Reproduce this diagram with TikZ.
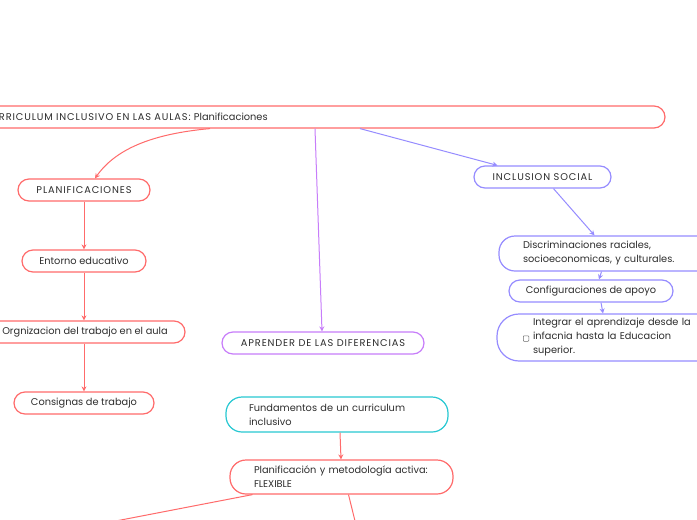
\documentclass[tikz,border=0pt]{standalone}
\usepackage{fontspec}
\setmainfont{Poppins}
\usetikzlibrary{arrows.meta}
\definecolor{cred}{RGB}{255,107,107}
\definecolor{cpurple}{RGB}{199,125,250}
\definecolor{cblue}{RGB}{150,140,255}
\definecolor{ccyan}{RGB}{40,200,210}
\definecolor{ctext}{RGB}{45,45,45}
\newcommand{\cps}[1]{{\addfontfeatures{LetterSpace=9}#1}}
\tikzset{
  box/.style={draw, line width=1.2pt, fill=white, text=ctext, font=\fontsize{9.8}{14}\selectfont,
              rounded corners=11pt, minimum height=22pt, inner ysep=0pt, inner xsep=0pt},
  tallbox/.style={box, rounded corners=16pt, align=left},
  conn/.style={line width=1pt, -{Stealth[length=5pt,width=5pt]}},
}
\begin{document}
\begin{tikzpicture}[x=1pt,y=-1pt]
\useasboundingbox (0,0) rectangle (697,520);
\fill[white] (0,0) rectangle (697,520);
\clip (0,0) rectangle (697,520);

% root
\node[box, draw=cred, inner xsep=18pt, align=left, text width=664pt] (root) at (315,117)
  {\cps{CURRICULUM INCLUSIVO EN LAS AULAS:} Planificaciones};

% left column
\node[box, draw=cred, minimum width=132pt] (plan) at (84,190) {\cps{PLANIFICACIONES}};
\node[box, draw=cred, minimum width=124pt] (ent) at (84,261) {Entorno educativo};
\node[box, draw=cred, minimum width=200pt] (org) at (85,332) {Orgnizacion del trabajo en el aula};
\node[box, draw=cred, minimum width=140pt] (cons) at (84,403) {Consignas de trabajo};

% middle
\node[box, draw=cpurple, minimum width=202pt] (apr) at (323,343) {\cps{APRENDER DE LAS DIFERENCIAS}};
\node[tallbox, draw=ccyan, minimum height=35pt, inner xsep=23pt, text width=176pt] (fund) at (337,414.5)
  {Fundamentos de un curriculum\\inclusivo};
\node[tallbox, draw=cred, minimum height=34pt, inner xsep=24pt, text width=175pt] (pmet) at (341.5,477)
  {Planificación y metodología activa:\\FLEXIBLE};

% right column
\node[box, draw=cblue, minimum width=137pt] (inc) at (542.5,177) {\cps{INCLUSION SOCIAL}};
\node[tallbox, draw=cblue, minimum height=35pt, inner xsep=24pt, text width=173pt] (disc) at (609.5,253.5)
  {Discriminaciones raciales,\\socioeconomicas, y culturales.};
\node[box, draw=cblue, minimum width=164pt] (conf) at (591,291) {Configuraciones de apoyo};
\node[tallbox, draw=cblue, minimum height=47pt, rounded corners=22pt, inner xsep=36pt, text width=190pt] (integ) at (628,337.5)
  {Integrar el aprendizaje desde la\\infacnia hasta la Educacion\\superior.};
\node[draw=ctext!70, line width=0.5pt, rounded corners=0.8pt, minimum size=5.5pt, inner sep=0pt] (chk) at (526,338.5) {};

% connectors
\draw[conn, cred] ([xshift=-105pt]root.south) .. controls (150,134) and (115,150) .. ([xshift=11pt]plan.north);
\draw[conn, cred] (plan.south) -- (ent.north);
\draw[conn, cred] (ent.south) -- ([xshift=-1pt]org.north);
\draw[conn, cred] ([xshift=-1pt]org.south) -- (cons.north);
\draw[conn, cpurple] ([xshift=0pt]root.south) -- ([xshift=-1pt]apr.north);
\draw[conn, cblue] ([xshift=45pt]root.south) -- ([xshift=-45pt]inc.north);
\draw[conn, cblue] ([xshift=11pt]inc.south) -- ([xshift=-15pt]disc.north);
\draw[conn, cblue] ([xshift=-8pt]disc.south) -- ([xshift=8pt]conf.north);
\draw[conn, cblue] ([xshift=10pt]conf.south) -- (integ.north -| 603,0);
\draw[conn, cred] ([xshift=3pt]fund.south) -- ([xshift=-0.5pt]pmet.north);
\coordinate (e1) at (95,525);
\coordinate (e2) at (356,525);
\draw[line width=1pt, cred] ([xshift=-89pt]pmet.south) -- (e1);
\draw[line width=1pt, cred] ([xshift=7pt]pmet.south) -- (e2);
\end{tikzpicture}
\end{document}
